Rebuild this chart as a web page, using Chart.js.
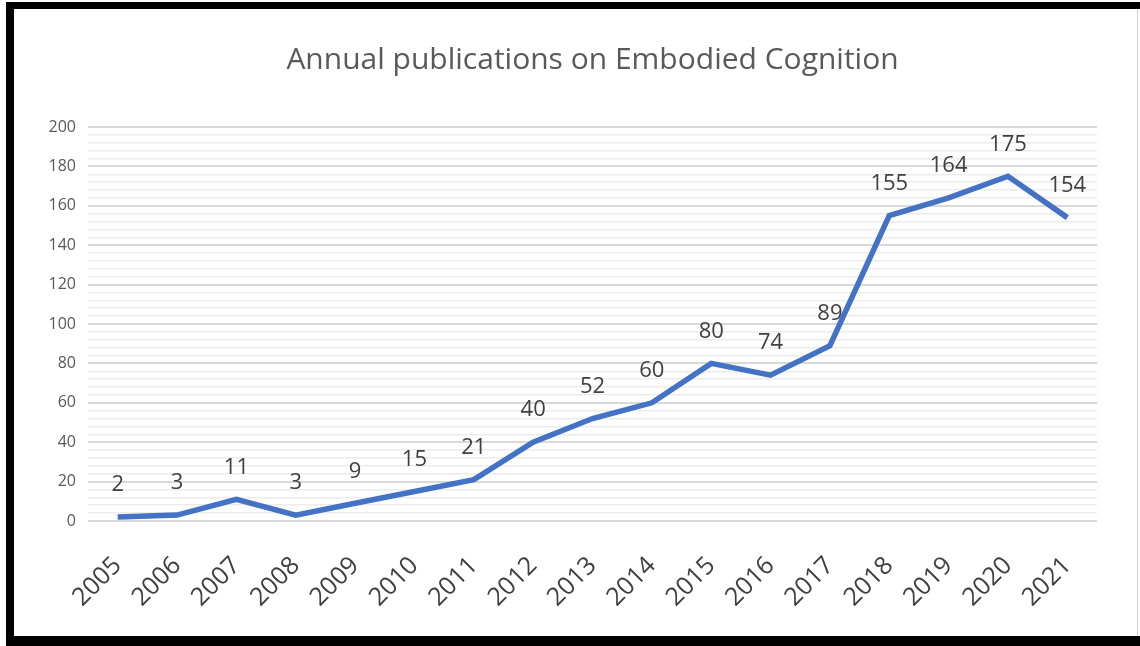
<!DOCTYPE html>
<html>
<head>
<meta charset="utf-8">
<script src="https://cdn.jsdelivr.net/npm/chart.js@4/dist/chart.umd.min.js"></script>
<style>
  html, body { margin: 0; padding: 0; background: #fff; }
  #wrap { position: relative; width: 1140px; height: 646px; overflow: hidden; }
  #chart { position: absolute; left: 0; top: 0; }
  #frame {
    position: absolute; left: 6px; top: 2px; width: 1134px; height: 644px;
    box-sizing: border-box;
    border-left: 8px solid #000; border-top: 7px solid #000; border-bottom: 10px solid #000;
    pointer-events: none;
  }
  #edge { position: absolute; left: 1137px; top: 9px; width: 1px; height: 627px; background: #cfcfcf; }
</style>
</head>
<body>
<div id="wrap">
  <canvas id="chart" width="1140" height="646"></canvas>
  <div id="frame"></div>
  <div id="edge"></div>
</div>
<script>
var years = ['2005', '2006', '2007', '2008', '2009', '2010', '2011', '2012', '2013',
  '2014', '2015', '2016', '2017', '2018', '2019', '2020', '2021'];
var publications = [2, 3, 11, 3, 9, 15, 21, 40, 52, 60, 80, 74, 89, 155, 164, 175, 154];
var chartTitle = 'Annual publications on Embodied Cognition';

// draws the value above every point, like the Excel data labels
var valueLabels = {
  id: 'valueLabels',
  afterDatasetsDraw: function(chart) {
    var ctx = chart.ctx;
    var meta = chart.getDatasetMeta(0);
    ctx.save();
    ctx.font = '22px "Open Sans"';
    ctx.fillStyle = '#404040';
    ctx.textAlign = 'center';
    ctx.textBaseline = 'middle';
    for (var i = 0; i < meta.data.length; i++) {
      var pt = meta.data[i];
      ctx.fillText(String(publications[i]), pt.x, pt.y - 32);
    }
    ctx.restore();
  }
};

// title centred over the plot area (Excel centres it there, not on the canvas)
var plotTitle = {
  id: 'plotTitle',
  afterDraw: function(chart) {
    var ctx = chart.ctx;
    var area = chart.chartArea;
    ctx.save();
    ctx.font = '30px "Open Sans"';
    ctx.fillStyle = '#595959';
    ctx.textAlign = 'center';
    ctx.textBaseline = 'middle';
    ctx.fillText(chartTitle, (area.left + area.right) / 2, 60);
    ctx.restore();
  }
};

var ctx = document.getElementById('chart').getContext('2d');
var myChart = new Chart(ctx, {
  type: 'line',
  data: {
    labels: years,
    datasets: [{
      data: publications,
      borderColor: '#4472C4',
      borderWidth: 5.5,
      pointRadius: 0,
      tension: 0,
      fill: false
    }]
  },
  options: {
    responsive: false,
    animation: false,
    layout: { padding: { left: 0, right: 43, top: 127, bottom: 25 } },
    plugins: {
      legend: { display: false },
      tooltip: { enabled: false },
      title: { display: false }
    },
    scales: {
      x: {
        offset: true,
        grid: { display: false },
        border: { display: false },
        ticks: {
          color: '#404040',
          font: { family: '"Open Sans"', size: 25 },
          minRotation: 45,
          maxRotation: 45,
          autoSkip: false,
          padding: 22
        },
        afterFit: function(scale) { scale.height = 100; }
      },
      y: {
        min: 0,
        max: 200,
        border: { display: false },
        grid: {
          drawTicks: false,
          color: function(c) { return c.tick.value % 20 === 0 ? '#d9d9d9' : '#ececec'; },
          lineWidth: function(c) { return c.tick.value % 20 === 0 ? 2 : 1.5; }
        },
        ticks: {
          stepSize: 4,
          autoSkip: false,
          color: '#595959',
          font: { family: '"Open Sans"', size: 16 },
          padding: 12,
          callback: function(v) { return v % 20 === 0 ? String(v) : ''; }
        },
        afterFit: function(scale) { scale.width = 88; }
      }
    }
  },
  plugins: [valueLabels, plotTitle]
});
</script>
</body>
</html>
